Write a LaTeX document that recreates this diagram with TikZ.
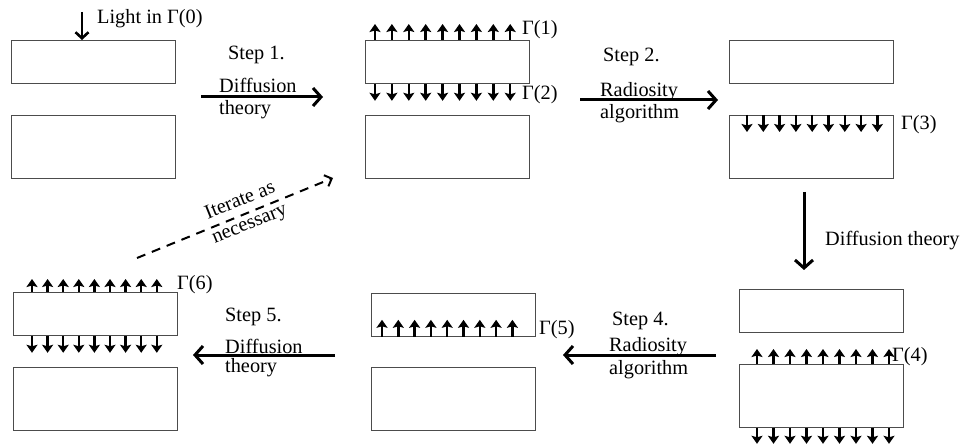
\documentclass[tikz,border=0pt]{standalone}
\usepackage{fontspec}
\setmainfont{Liberation Serif}
\usetikzlibrary{arrows.meta,calc}
\begin{document}
\begin{tikzpicture}[x=1pt,y=-1pt,
  slab/.style={draw=black!70, line width=0.8pt, minimum width=164pt, minimum height=43pt, inner sep=0pt, anchor=north west},
  slabt/.style={slab, minimum height=63pt},
  lbl/.style={font=\fontsize{20.3}{22}\selectfont, inner sep=0pt},
  bigarrow/.style={line width=3pt, -{Straight Barb[length=8pt,width=18pt]}},
  ray/.style={line width=2.5pt, -{Stealth[length=8pt,width=11pt,inset=1.5pt]}},
  lightarrow/.style={line width=2.6pt, -{Straight Barb[length=6pt,width=13pt]}},
  iterarrow/.style={line width=2pt, dash pattern=on 9pt off 7pt, -{Straight Barb[length=6pt,width=12pt]}}
]
\useasboundingbox (0,0) rectangle (961,446);

% slabs
\node[slab]  (A1) at (11,40) {};
\node[slabt] (A2) at (11,115) {};
\node[slab]  (B1) at (365,40) {};
\node[slabt] (B2) at (365,115) {};
\node[slab]  (C1) at (729,40) {};
\node[slabt] (C2) at (729,115) {};
\node[slab]  (F1) at (739,289) {};
\node[slabt] (F2) at (739,364) {};
\node[slab]  (E1) at (371,293) {};
\node[slabt] (E2) at (371,367) {};
\node[slab]  (D1) at (13,292) {};
\node[slabt] (D2) at (13,367) {};

% light in
\coordinate (l0) at (82,12);
\draw[lightarrow] (l0) -- (l0 |- A1.north);
\node[lbl, anchor=base west] (tlight) at (97,24) {Light in Γ(0)};

% rays
\foreach \i in {0,...,8} {
  \draw[ray] ($(B1.north west)+(10+16.9*\i,0)$) -- ++(0,-16);
  \draw[ray] ($(B1.south west)+(10+16.9*\i,0)$) -- ++(0,17);
  \draw[ray] ($(C2.north west)+(18+16.3*\i,0)$) -- ++(0,17);
  \draw[ray] ($(F2.north west)+(18+16.5*\i,0)$) -- ++(0,-15);
  \draw[ray] ($(F2.south west)+(18+16.5*\i,0)$) -- ++(0,16);
  \draw[ray] ($(E1.south west)+(11+16.3*\i,0)$) -- ++(0,-17);
  \draw[ray] ($(D1.north west)+(19+15.6*\i,0)$) -- ++(0,-13);
  \draw[ray] ($(D1.south west)+(19+15.6*\i,0)$) -- ++(0,17);
}
\node[lbl, anchor=west] (g1) at (522,30) {Γ(1)};
\node[lbl, anchor=west] (g2) at (522,95) {Γ(2)};
\node[lbl, anchor=west] (g3) at (901,125) {Γ(3)};
\node[lbl, anchor=west] (g4) at (892,357) {Γ(4)};
\node[lbl, anchor=west] (g5) at (539,330) {Γ(5)};
\node[lbl, anchor=west] (g6) at (177,285) {Γ(6)};

% step 1
\coordinate (s1a) at (201,97);
\coordinate (s1b) at (323,97);
\draw[bigarrow] (s1a) -- (s1b);
\node[lbl, anchor=base west] (st1) at (228,60) {Step 1.};
\node[lbl, anchor=base west] (st1a) at (219,93) {Diffusion};
\node[lbl, anchor=base west] (st1b) at (219,115) {theory};

% step 2
\coordinate (s2a) at (580,100);
\coordinate (s2b) at (718,100);
\draw[bigarrow] (s2a) -- (s2b);
\node[lbl, anchor=base west] (st2) at (603,62) {Step 2.};
\node[lbl, anchor=base west] (st2a) at (600,97) {Radiosity};
\node[lbl, anchor=base west] (st2b) at (600,119) {algorithm};

% step 3
\coordinate (s3a) at (804,192);
\coordinate (s3b) at (804,270);
\draw[bigarrow] (s3a) -- (s3b);
\node[lbl, anchor=base west] (st3) at (825,246) {Diffusion theory};

% step 4
\coordinate (s4a) at (716,355);
\coordinate (s4b) at (563,355);
\draw[bigarrow] (s4a) -- (s4b);
\node[lbl, anchor=base west] (st4) at (612,325) {Step 4.};
\node[lbl, anchor=base west] (st4a) at (609,352) {Radiosity};
\node[lbl, anchor=base west] (st4b) at (609,374) {algorithm};

% step 5
\coordinate (s5a) at (335,355);
\coordinate (s5b) at (193,355);
\draw[bigarrow] (s5a) -- (s5b);
\node[lbl, anchor=base west] (st5) at (225,321) {Step 5.};
\node[lbl, anchor=base west] (st5a) at (225,353) {Diffusion};
\node[lbl, anchor=base west] (st5b) at (225,372) {theory};

% iterate
\coordinate (ita) at (137,258);
\coordinate (itb) at (333,178);
\draw[iterarrow] (ita) -- (itb);
\node[lbl, align=center, rotate=22, font=\fontsize{20.3}{25}\selectfont] (itt) at (245,213) {Iterate as\\necessary};
\end{tikzpicture}
\end{document}
